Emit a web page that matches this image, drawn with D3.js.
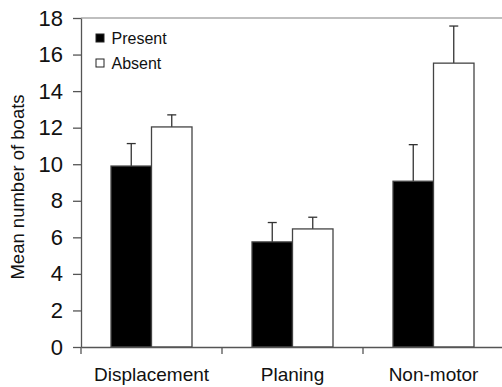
<!DOCTYPE html>
<html>
<head>
<meta charset="utf-8">
<script src="https://cdn.jsdelivr.net/npm/d3@7"></script>
<style>
  body { margin: 0; background: #fff; }
  svg { font-family: "Liberation Sans", Arial, sans-serif; }
  .axis path, .axis line { stroke: #555; stroke-width: 1.3; }
  .axis text { fill: #111; }
</style>
</head>
<body>
<svg width="502" height="387"></svg>
<script>
const categories = ["Displacement", "Planing", "Non-motor"];
const groups = ["Present", "Absent"];
const presentMeans = [9.9, 5.75, 9.07];
const presentErrors = [1.23, 1.06, 2.0];
const absentMeans = [12.04, 6.46, 15.53];
const absentErrors = [0.66, 0.64, 2.03];
const yTicks = [0, 2, 4, 6, 8, 10, 12, 14, 16, 18];

const svg = d3.select("svg"),
    margin = {top: 18, right: -2, bottom: 40, left: 81},
    width = svg.attr("width") - margin.left - margin.right,
    height = svg.attr("height") - margin.top - margin.bottom,
    g = svg.append("g").attr("transform", "translate(" + margin.left + "," + margin.top + ")");

const fills = {Present: "#000", Absent: "#fff"};

const xScale = d3.scaleBand().domain(categories).range([0, width]),
    xInner = d3.scaleBand().domain(groups).range([0, 81]),
    yScale = d3.scaleLinear().domain([0, 18]).range([height, 0]);

const rows = categories.map(function(c, i) {
  return {
    category: c,
    bars: [
      {group: "Present", value: presentMeans[i], err: presentErrors[i]},
      {group: "Absent", value: absentMeans[i], err: absentErrors[i]}
    ]
  };
});

// Top frame line
g.append("line")
    .attr("x1", 0).attr("x2", width)
    .attr("y1", 0).attr("y2", 0)
    .style("stroke", "#aaa")
    .style("stroke-width", 1.3);

// Bars with error bars
const cat = g.selectAll(".cat")
  .data(rows)
  .enter().append("g")
    .attr("class", "cat")
    .attr("transform", function(d) { return "translate(" + (xScale(d.category) + (xScale.bandwidth() - 81) / 2) + ",0)"; });

const bar = cat.selectAll(".bar")
  .data(function(d) { return d.bars; })
  .enter().append("g")
    .attr("class", "bar");

bar.append("line")
    .attr("x1", function(d) { return xInner(d.group) + xInner.bandwidth() / 2; })
    .attr("x2", function(d) { return xInner(d.group) + xInner.bandwidth() / 2; })
    .attr("y1", function(d) { return yScale(d.value); })
    .attr("y2", function(d) { return yScale(d.value + d.err); })
    .style("stroke", "#333")
    .style("stroke-width", 1.3);

bar.append("line")
    .attr("x1", function(d) { return xInner(d.group) + xInner.bandwidth() / 2 - 4.5; })
    .attr("x2", function(d) { return xInner(d.group) + xInner.bandwidth() / 2 + 4.5; })
    .attr("y1", function(d) { return yScale(d.value + d.err); })
    .attr("y2", function(d) { return yScale(d.value + d.err); })
    .style("stroke", "#333")
    .style("stroke-width", 1.3);

bar.append("rect")
    .attr("x", function(d) { return xInner(d.group); })
    .attr("y", function(d) { return yScale(d.value); })
    .attr("width", xInner.bandwidth())
    .attr("height", function(d) { return height - yScale(d.value); })
    .style("fill", function(d) { return fills[d.group]; })
    .style("stroke", "#444")
    .style("stroke-width", 1.3);

// Axes
g.append("g")
    .attr("class", "axis")
    .call(d3.axisLeft(yScale).tickValues(yTicks).tickSize(8).tickPadding(10).tickSizeOuter(0))
    .selectAll("text")
    .style("font-size", "22px");

const xAxis = g.append("g")
    .attr("class", "axis")
    .attr("transform", "translate(0," + height + ")")
    .call(d3.axisBottom(xScale).tickSize(0).tickPadding(21).tickSizeOuter(0));
xAxis.selectAll("text").style("font-size", "19px");

// Category boundary ticks
xAxis.selectAll(".sep")
  .data(categories)
  .enter().append("line")
    .attr("class", "sep")
    .attr("x1", function(d) { return xScale(d); })
    .attr("x2", function(d) { return xScale(d); })
    .attr("y1", 0)
    .attr("y2", 7);

svg.append("text")
    .attr("transform", "translate(24,187) rotate(-90)")
    .style("text-anchor", "middle")
    .style("font-size", "18.5px")
    .style("fill", "#111")
    .text("Mean number of boats");

// Legend
const legend = g.selectAll(".legend")
  .data(groups)
  .enter().append("g")
    .attr("class", "legend")
    .attr("transform", function(d, i) { return "translate(15," + (16 + i * 25) + ")"; });

legend.append("rect")
    .attr("width", 8)
    .attr("height", 8)
    .style("fill", function(d) { return fills[d]; })
    .style("stroke", "#222")
    .style("stroke-width", 1);

legend.append("text")
    .attr("x", 15.5)
    .attr("y", 10)
    .style("font-size", "16px")
    .style("fill", "#111")
    .text(function(d) { return d; });
</script>
</body>
</html>
